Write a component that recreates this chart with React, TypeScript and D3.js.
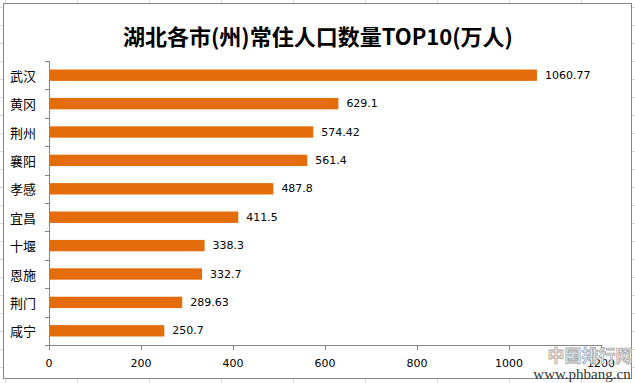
import React from "react";
import * as d3 from "d3";

const categories = ["武汉", "黄冈", "荆州", "襄阳", "孝感", "宜昌", "十堰", "恩施", "荆门", "咸宁"];
const values = [1060.77, 629.1, 574.42, 561.4, 487.8, 411.5, 338.3, 332.7, 289.63, 250.7];
const valueLabels = ["1060.77", "629.1", "574.42", "561.4", "487.8", "411.5", "338.3", "332.7", "289.63", "250.7"];
const xTicks = [0, 200, 400, 600, 800, 1000, 1200];
const title = "湖北各市(州)常住人口数量TOP10(万人)";

const W = 635;
const H = 383;

export default function App() {
  const x = d3.scaleLinear().domain([0, 1200]).range([49, 601]);
  const y = d3.scaleBand<string>().domain(categories).range([61, 345]).paddingInner(0.6).paddingOuter(0.3);
  const yb = d3.scaleBand<string>().domain(categories).range([61, 345]);
  const gridX = d3.range(5, W, 72);
  const gridY = d3.range(7, H, 18);
  const tickFont = "Verdana, 'DejaVu Sans', sans-serif";
  const cjk = "'Noto Sans CJK SC', sans-serif";
  return (
    <svg width={W} height={H} style={{ position: "absolute", left: 0, top: 0, background: "#fff" }}>
      {gridX.map((g) => (
        <line key={"gx" + g} x1={g + 0.5} x2={g + 0.5} y1={0} y2={H} stroke="#dadada" strokeWidth={1} />
      ))}
      {gridY.map((g) => (
        <line key={"gy" + g} x1={0} x2={W} y1={g + 0.5} y2={g + 0.5} stroke="#dadada" strokeWidth={1} />
      ))}
      <rect x={3.5} y={3.5} width={628} height={375} fill="#fff" stroke="#868686" strokeWidth={1} />
      <text x={318} y={45} textAnchor="middle" fontFamily={"'Microsoft YaHei', " + cjk} fontSize={22} fontWeight="bold" fill="#000">
        {title}
      </text>
      {/* bars */}
      {categories.map((c, i) => (
        <rect key={c} x={x(0)} y={y(c)!} width={x(values[i]) - x(0)} height={y.bandwidth()} fill="#E46C0A" />
      ))}
      {/* value labels */}
      {categories.map((c, i) => (
        <text key={"v" + c} x={x(values[i]) + 8} y={y(c)! + y.bandwidth() / 2} dominantBaseline="central"
          fontFamily={tickFont} fontSize={11} fill="#000">
          {valueLabels[i]}
        </text>
      ))}
      {/* y axis */}
      <line x1={49.5} x2={49.5} y1={61} y2={345} stroke="#868686" />
      {categories.concat(["_end"]).map((c, i) => {
        const yy = 61 + i * yb.step();
        return <line key={"yt" + i} x1={45} x2={49.5} y1={Math.round(yy) + 0.5} y2={Math.round(yy) + 0.5} stroke="#868686" />;
      })}
      {categories.map((c) => (
        <text key={"yl" + c} x={36} y={yb(c)! + yb.bandwidth() / 2} textAnchor="end" dominantBaseline="central"
          fontFamily={cjk} fontSize={13} fill="#000">
          {c}
        </text>
      ))}
      {/* x axis */}
      <line x1={49} x2={602} y1={345.5} y2={345.5} stroke="#868686" />
      {xTicks.map((t) => (
        <g key={"xt" + t}>
          <line x1={Math.round(x(t)) + 0.5} x2={Math.round(x(t)) + 0.5} y1={345} y2={350} stroke="#868686" />
          <text x={x(t)} y={367} textAnchor="middle" fontFamily={tickFont} fontSize={11} fill="#000">
            {t}
          </text>
        </g>
      ))}
      {/* watermark */}
      <text x={590} y={362} textAnchor="middle" fontFamily={cjk} fontSize={17} fontWeight="bold" fill="#f0f0f0" stroke="#a8a8a8" strokeWidth={0.8}>
        中国排行网
      </text>
      <text x={582} y={379} textAnchor="middle" fontFamily="'Liberation Serif', 'DejaVu Serif', serif" fontSize={15} fill="#333">
        www.phbang.cn
      </text>
    </svg>
  );
}
